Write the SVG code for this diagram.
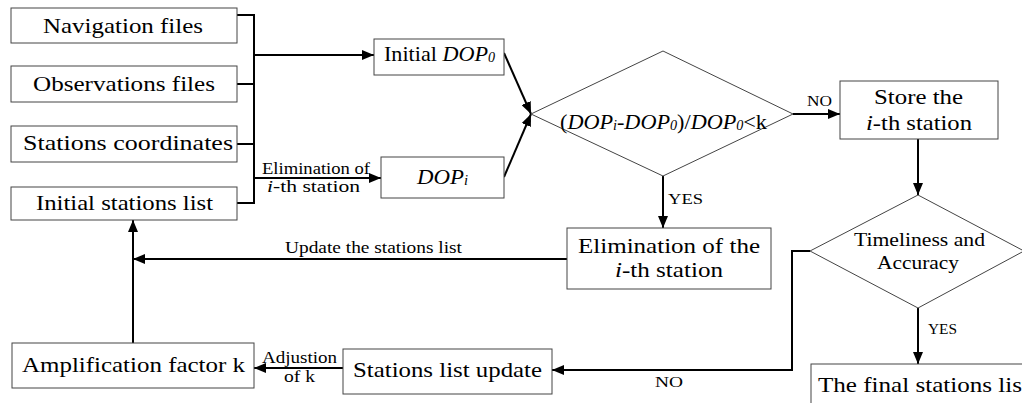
<svg xmlns="http://www.w3.org/2000/svg" width="1022" height="403" viewBox="0 0 1022 403">
  <style>
    .box { fill: #ffffff; stroke: #444444; stroke-width: 1; }
    .dia { fill: #ffffff; stroke: #444444; stroke-width: 1; }
    text { font-family: 'Liberation Serif', 'Times New Roman', serif; fill: #000000; }
    .t { font-size: 22px; text-anchor: middle; }
    .m { font-size: 19px; text-anchor: middle; }
    .s { font-size: 16px; text-anchor: middle; }
    .xs { font-size: 14px; text-anchor: start; }
    .it { font-style: italic; }
    .sub { font-style: italic; font-size: 14px; }
    .wire { fill: none; stroke: #000000; stroke-width: 2; }
  </style>
  <defs>
    <marker id="arrow" viewBox="0 0 12 10" refX="12" refY="5" markerWidth="12" markerHeight="10" markerUnits="userSpaceOnUse" orient="auto">
      <path d="M0,0 L12,5 L0,10 Z" fill="#000000"/>
    </marker>
  </defs>

  <rect width="1022" height="403" fill="#ffffff"/>

  <!-- connectors -->
  <g id="connectors">
    <path class="wire" d="M237,15 H254 V203 H237 M237,84 H254 M237,144 H254"/>
    <path class="wire" d="M254,55 H374" marker-end="url(#arrow)"/>
    <path class="wire" d="M254,178 H381" marker-end="url(#arrow)"/>
    <path class="wire" d="M504,53 L531,114" marker-end="url(#arrow)"/>
    <path class="wire" d="M504,177 L531,114" marker-end="url(#arrow)"/>
    <path class="wire" d="M793,114 H840" marker-end="url(#arrow)"/>
    <path class="wire" d="M663,176 V228" marker-end="url(#arrow)"/>
    <path class="wire" d="M918,139 V195" marker-end="url(#arrow)"/>
    <path class="wire" d="M918,308 V364" marker-end="url(#arrow)"/>
    <path class="wire" d="M810,251 H792 V370 H552" marker-end="url(#arrow)"/>
    <path class="wire" d="M567,259 H133" marker-end="url(#arrow)"/>
    <path class="wire" d="M133,343 V220" marker-end="url(#arrow)"/>
    <path class="wire" d="M343,368 H254" marker-end="url(#arrow)"/>

    <text class="s" x="316" y="174" textLength="108" lengthAdjust="spacingAndGlyphs">Elimination of</text>
    <text class="s" x="313.5" y="192" textLength="93" lengthAdjust="spacingAndGlyphs"><tspan class="it">i</tspan>-th station</text>
    <text class="xs" x="807" y="106" textLength="25" lengthAdjust="spacingAndGlyphs">NO</text>
    <text class="xs" x="668" y="204" style="font-size:15px" textLength="35" lengthAdjust="spacingAndGlyphs">YES</text>
    <text class="s" x="373.5" y="253" textLength="177" lengthAdjust="spacingAndGlyphs">Update the stations list</text>
    <text class="xs" x="928" y="334" textLength="29" lengthAdjust="spacingAndGlyphs">YES</text>
    <text class="xs" x="655" y="387" style="font-size:15px" textLength="28" lengthAdjust="spacingAndGlyphs">NO</text>
    <text class="s" x="299.5" y="363" textLength="75" lengthAdjust="spacingAndGlyphs">Adjustion</text>
    <text class="s" x="299.5" y="382" textLength="31" lengthAdjust="spacingAndGlyphs">of k</text>
  </g>

  <!-- input files -->
  <g id="navigation-files">
    <rect class="box" x="11" y="8" width="226" height="35"/>
    <text class="t" x="123" y="33" textLength="160" lengthAdjust="spacingAndGlyphs">Navigation files</text>
  </g>
  <g id="observations-files">
    <rect class="box" x="11" y="66" width="226" height="36"/>
    <text class="t" x="124" y="91" textLength="182" lengthAdjust="spacingAndGlyphs">Observations files</text>
  </g>
  <g id="stations-coordinates">
    <rect class="box" x="11" y="126" width="226" height="36"/>
    <text class="t" x="128" y="150" textLength="210" lengthAdjust="spacingAndGlyphs">Stations coordinates</text>
  </g>
  <g id="initial-stations-list">
    <rect class="box" x="11" y="187" width="226" height="33"/>
    <text class="t" x="124.5" y="210" textLength="177" lengthAdjust="spacingAndGlyphs">Initial stations list</text>
  </g>

  <!-- DOP computation -->
  <g id="initial-dop">
    <rect class="box" x="374" y="39" width="130" height="36"/>
    <text class="t" x="439.5" y="61" textLength="111" lengthAdjust="spacingAndGlyphs">Initial <tspan class="it">DOP</tspan><tspan class="sub" dy="1">0</tspan></text>
  </g>
  <g id="dop-i">
    <rect class="box" x="381" y="157" width="123" height="41"/>
    <text class="t" x="442.5" y="184" textLength="51" lengthAdjust="spacingAndGlyphs"><tspan class="it">DOP</tspan><tspan class="sub" dy="1">i</tspan></text>
  </g>

  <g id="dop-test">
    <polygon class="dia" points="531,114 663,51 793,114 663,176"/>
    <text class="t" x="663.5" y="129" textLength="207" lengthAdjust="spacingAndGlyphs">(<tspan class="it">DOP</tspan><tspan class="sub" dy="1">i</tspan><tspan class="it" dy="-1">-DOP</tspan><tspan class="sub" dy="1">0</tspan><tspan dy="-1">)/</tspan><tspan class="it">DOP</tspan><tspan class="sub" dy="1">0</tspan><tspan dy="-1">&lt;k</tspan></text>
  </g>

  <g id="store-station">
    <rect class="box" x="840" y="81" width="158" height="58"/>
    <text class="t" x="918.5" y="104" textLength="89" lengthAdjust="spacingAndGlyphs">Store the</text>
    <text class="t" x="919" y="130" textLength="106" lengthAdjust="spacingAndGlyphs"><tspan class="it">i</tspan>-th station</text>
  </g>

  <g id="eliminate-station">
    <rect class="box" x="567" y="228" width="204" height="61"/>
    <text class="t" x="669" y="253" textLength="182" lengthAdjust="spacingAndGlyphs">Elimination of the</text>
    <text class="t" x="669" y="277" textLength="108" lengthAdjust="spacingAndGlyphs"><tspan class="it">i</tspan>-th station</text>
  </g>

  <g id="timeliness-test">
    <polygon class="dia" points="810,251 918,195 1024,251 918,308"/>
    <text class="m" x="919.5" y="246" textLength="131" lengthAdjust="spacingAndGlyphs">Timeliness and</text>
    <text class="m" x="918" y="269" textLength="82" lengthAdjust="spacingAndGlyphs">Accuracy</text>
  </g>

  <g id="final-stations-list">
    <rect class="box" x="811" y="364" width="240" height="60"/>
    <text class="t" x="818" y="392" style="text-anchor:start" textLength="211" lengthAdjust="spacingAndGlyphs">The final stations list</text>
  </g>

  <g id="stations-list-update">
    <rect class="box" x="343" y="349" width="209" height="45"/>
    <text class="t" x="447.5" y="377" textLength="189" lengthAdjust="spacingAndGlyphs">Stations list update</text>
  </g>

  <g id="amplification-factor">
    <rect class="box" x="12" y="343" width="242" height="45"/>
    <text class="t" x="133.5" y="372" textLength="223" lengthAdjust="spacingAndGlyphs">Amplification factor k</text>
  </g>
</svg>
